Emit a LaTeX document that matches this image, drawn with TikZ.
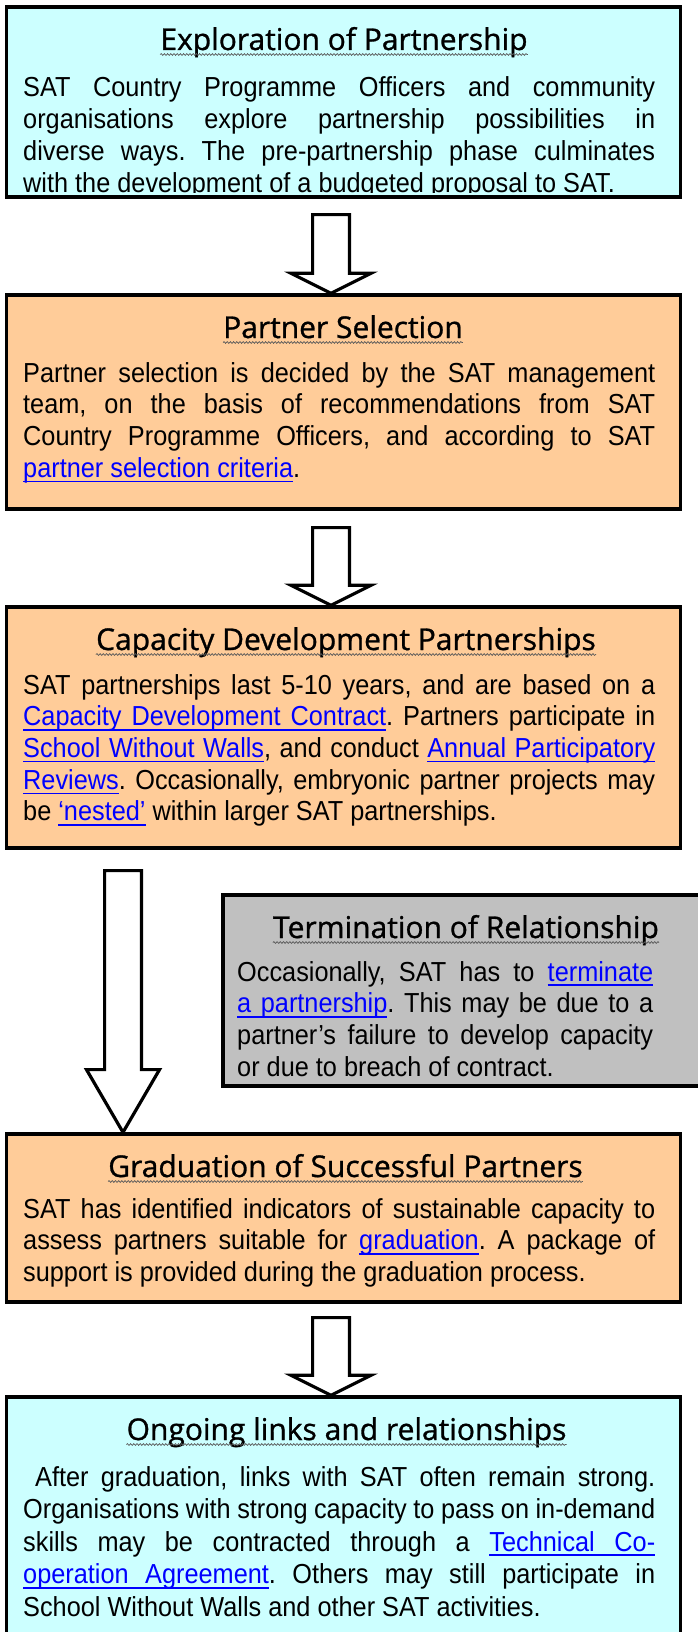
\documentclass[tikz,border=0pt]{standalone}
\usepackage{fontspec}
\setmainfont{Liberation Sans}[FakeStretch=0.92]
\newfontfamily\headfam{Open Sans}[FakeBold=1]
\usetikzlibrary{calc,decorations.pathmorphing}
\definecolor{skyFill}{HTML}{CCFFFF}
\definecolor{peachFill}{HTML}{FFCC99}
\definecolor{slateFill}{HTML}{C0C0C0}
\definecolor{linkBlue}{HTML}{0000FF}
\tolerance=10000
\hbadness=10000
\frenchspacing
% underlined link text, word by word, with stretchable underlined spaces
\newcommand{\ulword}[1]{\setbox0\hbox{#1}\rlap{\rule[-5pt]{\wd0}{1.6pt}}\box0}
\newcommand{\ulsp}{\leaders\hrule height -3.4pt depth 5pt
  \hskip\fontdimen2\font plus \fontdimen3\font minus \fontdimen4\font}
\def\ulsplit#1 #2\relax{\ulword{#1}%
  \if\relax\detokenize{#2}\relax\else\ulsp\ulsplit#2\relax\fi}
\newcommand{\weblink}[1]{\textcolor{linkBlue}{\ulsplit#1 \relax}}
% block arrow: start of shaft, tip, half shaft, half head, head length
\newcommand{\hollowarrow}[5]{%
 \draw[hollow] let \p1=(#1), \p2=(#2) in
  (\x1-#3,\y1) -- (\x1+#3,\y1) -- (\x1+#3,\y2+#5) -- (\x1+#4,\y2+#5)
  -- (\x1,\y2) -- (\x1-#4,\y2+#5) -- (\x1-#3,\y2+#5) -- cycle;}
\tikzset{
 stage/.style={rectangle,draw=black,line width=3.4pt,inner sep=0pt,minimum width=674pt},
 heading/.style={anchor=base,inner sep=0pt,font=\headfam\fontsize{30pt}{36pt}\selectfont},
 body/.style={anchor=base west,inner sep=0pt,text width=632pt,align=justify,
   font=\fontsize{27.5pt}{31.7pt}\selectfont},
 squiggle/.style={draw=black!65,line width=.7pt,decorate,
   decoration={snake,amplitude=.9pt,segment length=3.2pt}},
 hollow/.style={draw=black,fill=white,line width=3.2pt,line join=miter}
}

\begin{document}
\begin{tikzpicture}[x=1pt,y=-1pt]
 \useasboundingbox (0,0) rectangle (697,1632);
 \fill[white] (0,0) rectangle (697,1632);

 % stages
 \node[stage,fill=skyFill,minimum height=190pt] (explore) at (343.5,102) {};
 \node[stage,fill=peachFill,minimum height=214pt] (select) at (343.5,402) {};
 \node[stage,fill=peachFill,minimum height=241pt] (capacity) at (343.5,727.5) {};
 \node[stage,fill=slateFill,minimum width=487pt,minimum height=191pt] (terminate) at (466.5,990.5) {};
 \node[stage,fill=peachFill,minimum height=168pt] (graduate) at (343.5,1218) {};
 \node[stage,fill=skyFill,minimum height=326pt] (links) at (343.5,1560) {};

 % headings
 \node[heading] (exploreT) at (344,50) {Exploration of Partnership};
 \node[heading] (selectT) at (343,338) {Partner Selection};
 \node[heading] (capacityT) at (346,650) {Capacity Development Partnerships};
 \node[heading] (terminateT) at (466,938) {Termination of Relationship};
 \node[heading] (graduateT) at (345.5,1177) {Graduation of Successful Partners};
 \node[heading] (linksT) at (346.5,1440) {Ongoing links and relationships};
 \foreach \t in {exploreT,selectT,capacityT,terminateT,graduateT,linksT}
  \draw[squiggle] ([yshift=-4.5pt]\t.base west) -- ([yshift=-4.5pt]\t.base east);

 % texts (the first one is cut off by its frame)
 \begin{scope}
  \clip (explore.north west) rectangle (680,193);
  \node[body] (exploreB) at (23,97) {SAT Country Programme Officers and community\linebreak
   organisations explore partnership possibilities in\linebreak
   diverse ways. The pre-partnership phase culminates\linebreak
   with the development of a budgeted proposal to SAT.};
 \end{scope}
 \node[body] (selectB) at (23,382) {Partner selection is decided by the SAT management\linebreak
  team, on the basis of recommendations from SAT\linebreak
  Country Programme Officers, and according to SAT\linebreak
  \weblink{partner selection criteria}.};
 \node[body] (capacityB) at (23,694) {SAT partnerships last 5-10 years, and are based on a\linebreak
  \weblink{Capacity Development Contract}. Partners participate in\linebreak
  \weblink{School Without Walls}, and conduct \weblink{Annual Participatory}\linebreak
  \weblink{Reviews}. Occasionally, embryonic partner projects may\linebreak
  be \weblink{‘nested’} within larger SAT partnerships.};
 \node[body,text width=416pt] (terminateB) at (237,981) {Occasionally, SAT has to \weblink{terminate}\linebreak
  \weblink{a partnership}. This may be due to a\linebreak
  partner’s failure to develop capacity\linebreak
  or due to breach of contract.};
 \node[body] (graduateB) at (23,1218) {SAT has identified indicators of sustainable capacity to\linebreak
  assess partners suitable for \weblink{graduation}. A package of\linebreak
  support is provided during the graduation process.};
 \node[body,font=\fontsize{27.5pt}{32.5pt}\selectfont] (linksB) at (23,1486)
  {\hspace*{12pt}After graduation, links with SAT often remain strong.\linebreak
  Organisations with strong capacity to pass on in-demand\linebreak
  skills may be contracted through a \weblink{Technical Co-}\linebreak
  \weblink{operation Agreement}. Others may still participate in\linebreak
  School Without Walls and other SAT activities.};

 % arrows between stages
 \coordinate (a1) at (331,214.6);
 \coordinate (a2) at (331,527.6);
 \coordinate (a3) at (123,870.6);
 \coordinate (a4) at (331,1317.6);
 \hollowarrow{a1}{a1 |- select.north}{18.4pt}{40pt}{20pt}
 \hollowarrow{a2}{a2 |- capacity.north}{18.4pt}{40pt}{20pt}
 \hollowarrow{a3}{a3 |- graduate.north}{18.4pt}{36.5pt}{62.7pt}
 \hollowarrow{a4}{a4 |- links.north}{18.4pt}{40pt}{20pt}
\end{tikzpicture}
\end{document}
